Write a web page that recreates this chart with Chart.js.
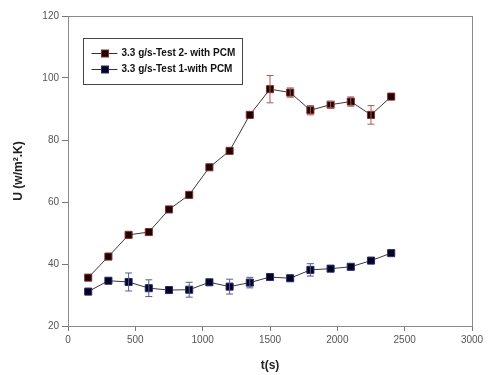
<!DOCTYPE html>
<html>
<head>
<meta charset="utf-8">
<script src="https://cdn.jsdelivr.net/npm/chart.js@4"></script>
<style>
  html, body { margin: 0; padding: 0; background: #fff; }
  #wrap { width: 492px; height: 375px; position: relative; }
</style>
</head>
<body>
<div id="wrap"><canvas id="chart"></canvas></div>
<script>
// Data
const times = [150, 300, 450, 600, 750, 900, 1050, 1200, 1350, 1500, 1650, 1800, 1950, 2100, 2250, 2400];
const test2Values = [35.6, 42.4, 49.4, 50.3, 57.6, 62.3, 71.2, 76.5, 88.1, 96.4, 95.3, 89.6, 91.4, 92.4, 88.1, 94.0];
const test2Errors = [0.6, 0.6, 0.6, 0.6, 0.6, 0.6, 0.6, 0.6, 0.6, 4.4, 1.5, 1.5, 1.0, 1.5, 3.0, 0.6];
const test1Values = [31.1, 34.6, 34.2, 32.2, 31.6, 31.7, 34.1, 32.7, 34.0, 35.8, 35.4, 38.1, 38.5, 39.1, 41.1, 43.5];
const test1Errors = [0.6, 0.6, 2.9, 2.7, 0.6, 2.4, 0.6, 2.4, 1.7, 0.6, 0.6, 2.0, 0.6, 0.6, 0.6, 0.6];
const seriesLabels = ['3.3 g/s-Test 2- with PCM', '3.3 g/s-Test 1-with PCM'];
const xTicks = [0, 500, 1000, 1500, 2000, 2500, 3000];
const yTicks = [20, 40, 60, 80, 100, 120];

const FONT = 'Arial, "Liberation Sans", sans-serif';

const toPoints = (xs, ys) => xs.map((x, i) => ({ x: x, y: ys[i] }));

// Error bars drawn through the scales
const errorBars = {
    id: 'errorBars',
    afterDatasetsDraw(chart) {
        const ctx = chart.ctx;
        const xs = chart.scales.x, ys = chart.scales.y;
        chart.data.datasets.forEach(ds => {
            if (!ds.errors) return;
            ctx.save();
            ctx.strokeStyle = ds.errorColor;
            ctx.lineWidth = 1;
            ds.data.forEach((p, i) => {
                const e = ds.errors[i];
                if (e < 1) return;
                const px = xs.getPixelForValue(p.x);
                const top = ys.getPixelForValue(p.y + e);
                const bot = ys.getPixelForValue(p.y - e);
                ctx.beginPath();
                ctx.moveTo(px, top); ctx.lineTo(px, bot);
                ctx.moveTo(px - 3.5, top); ctx.lineTo(px + 3.5, top);
                ctx.moveTo(px - 3.5, bot); ctx.lineTo(px + 3.5, bot);
                ctx.stroke();
            });
            ctx.restore();
        });
    }
};

// Frame around plot area + boxed legend
const frameLegend = {
    id: 'frameLegend',
    afterDraw(chart) {
        const ctx = chart.ctx;
        const a = chart.chartArea;
        ctx.save();
        ctx.strokeStyle = '#8a8a8a';
        ctx.lineWidth = 1;
        ctx.strokeRect(a.left + 0.5, a.top + 0.5, a.right - a.left, a.bottom - a.top);

        // legend box
        const lx = a.left + 15.5, ly = a.top + 22.5, lw = 159, lh = 46;
        ctx.strokeStyle = '#444';
        ctx.strokeRect(lx, ly, lw, lh);
        ctx.font = 'bold 10px ' + FONT;
        ctx.textBaseline = 'middle';
        chart.data.datasets.forEach((ds, i) => {
            const cy = ly + 15 + i * 16;
            ctx.strokeStyle = '#333';
            ctx.beginPath();
            ctx.moveTo(lx + 8, cy); ctx.lineTo(lx + 34, cy);
            ctx.stroke();
            ctx.fillStyle = ds.pointBackgroundColor;
            ctx.fillRect(lx + 18, cy - 3.5, 7, 7);
            ctx.strokeStyle = ds.pointBorderColor;
            ctx.strokeRect(lx + 18, cy - 3.5, 7, 7);
            ctx.fillStyle = '#111';
            ctx.fillText(ds.label, lx + 38, cy);
        });
        ctx.restore();
    }
};

new Chart(document.getElementById('chart'), {
    type: 'scatter',
    data: {
        datasets: [
            {
                label: seriesLabels[0],
                data: toPoints(times, test2Values),
                errors: test2Errors,
                errorColor: '#a85a5a',
                showLine: true,
                borderColor: '#3a3a3a',
                borderWidth: 1,
                pointStyle: 'rect',
                pointRadius: 5,
                pointBackgroundColor: '#1a0000',
                pointBorderColor: '#8a2a2a',
                pointBorderWidth: 1
            },
            {
                label: seriesLabels[1],
                data: toPoints(times, test1Values),
                errors: test1Errors,
                errorColor: '#5a5a90',
                showLine: true,
                borderColor: '#3a3a3a',
                borderWidth: 1,
                pointStyle: 'rect',
                pointRadius: 5,
                pointBackgroundColor: '#000022',
                pointBorderColor: '#2a2a6a',
                pointBorderWidth: 1
            }
        ]
    },
    options: {
        responsive: true,
        maintainAspectRatio: false,
        animation: false,
        layout: { padding: { top: 16, right: 20, left: 0, bottom: 0 } },
        plugins: {
            legend: { display: false },
            tooltip: { enabled: false }
        },
        scales: {
            x: {
                type: 'linear',
                min: 0,
                max: 3000,
                afterBuildTicks: s => { s.ticks = xTicks.map(v => ({ value: v })); },
                afterFit: s => { s.height = 49; },
                grid: { drawOnChartArea: false, tickLength: 5, color: '#777' },
                border: { color: '#8a8a8a' },
                ticks: {
                    color: '#555',
                    font: { family: FONT, size: 10 },
                    padding: 3,
                    maxRotation: 0,
                    callback: v => String(v)
                },
                title: {
                    display: true,
                    text: 't(s)',
                    color: '#222',
                    font: { family: FONT, size: 12, weight: 'bold' },
                    padding: { top: 0, bottom: 2 }
                }
            },
            y: {
                min: 20,
                max: 120,
                afterBuildTicks: s => { s.ticks = yTicks.map(v => ({ value: v })); },
                afterFit: s => { s.width = 68; },
                grid: { drawOnChartArea: false, tickLength: 6, color: '#777' },
                border: { color: '#8a8a8a' },
                ticks: { color: '#555', font: { family: FONT, size: 10 }, padding: 3, callback: v => String(v) },
                title: {
                    display: true,
                    text: 'U (w/m\u00B2.K)',
                    color: '#222',
                    font: { family: FONT, size: 12, weight: 'bold' },
                    padding: { top: 11, bottom: 0 }
                }
            }
        }
    },
    plugins: [errorBars, frameLegend]
});
</script>
</body>
</html>
